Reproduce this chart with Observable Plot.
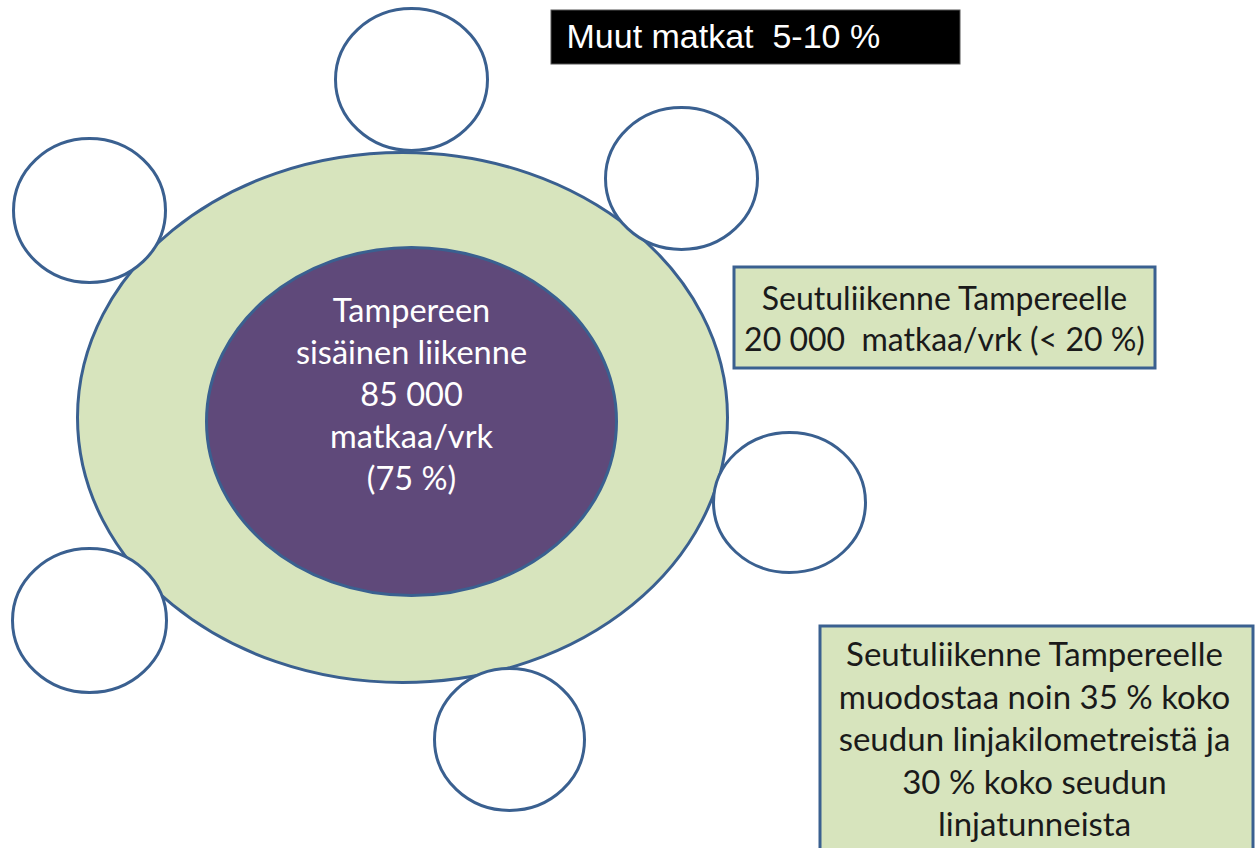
<!DOCTYPE html>
<html><head><meta charset="utf-8">
<script src="https://cdn.jsdelivr.net/npm/d3@7"></script>
<script src="https://cdn.jsdelivr.net/npm/@observablehq/plot@0.6"></script>
<style>html,body{margin:0;padding:0;background:#fff;overflow:hidden}</style>
</head><body><div id="chart"></div>
<script>
const W = 1255, H = 848;

// Nested ellipses: regional ring (outer) and Tampere internal traffic (inner)
const ringNames = ["Seutuliikenne", "Tampereen sisäinen liikenne"];
const ringX = [402, 411];
const ringY = [417, 421];
const ringRx = [325, 205];
const ringRy = [265, 174];

// Surrounding municipalities (empty circles)
const satX = [411, 681, 89, 789, 89, 509];
const satY = [79, 178, 210, 502, 620, 739];
const satRx = [76, 76, 76, 76, 77, 75];
const satRy = [71, 71, 72, 70, 72, 71];

// Text content
const titleText = "Muut matkat\u00a0 5-10 %";
const innerLines = ["Tampereen", "sisäinen liikenne", "85 000", "matkaa/vrk", "(75 %)"];
const box1Lines = ["Seutuliikenne Tampereelle", "20 000\u00a0 matkaa/vrk (< 20 %)"];
const box2Lines = ["Seutuliikenne Tampereelle", "muodostaa noin 35 % koko", "seudun linjakilometreistä ja", "30 % koko seudun", "linjatunneista"];

// Text boxes: title, box 1, box 2
const boxX1 = [551, 734, 820];
const boxX2 = [960, 1155, 1253];
const boxY1 = [10, 267, 626];
const boxY2 = [64, 368, 880];
const labelX = [566, 944, 1034, 411];
const labelY = [37, 317, 737, 392];

const STROKE = "#3a6090";
const K = 0.5522847498;
function ellipseSymbol(aspect) {
  return {
    draw(ctx, size) {
      const rx = Math.sqrt(size / Math.PI), ry = rx * aspect;
      ctx.moveTo(rx, 0);
      ctx.bezierCurveTo(rx, K * ry, K * rx, ry, 0, ry);
      ctx.bezierCurveTo(-K * rx, ry, -rx, K * ry, -rx, 0);
      ctx.bezierCurveTo(-rx, -K * ry, -K * rx, -ry, 0, -ry);
      ctx.bezierCurveTo(K * rx, -ry, rx, -K * ry, rx, 0);
      ctx.closePath();
    }
  };
}

const ringFills = ["#d7e4bd", "#5f497a"];
const ringMarks = ringNames.map((name, i) => Plot.dot([i], {
  x: j => ringX[j], y: j => ringY[j], r: j => ringRx[j],
  symbol: ellipseSymbol(ringRy[i] / ringRx[i]),
  fill: ringFills[i], stroke: STROKE, strokeWidth: 3, title: () => name
}));
const satMarks = satX.map((_, i) => Plot.dot([i], {
  x: j => satX[j], y: j => satY[j], r: j => satRx[j],
  symbol: ellipseSymbol(satRy[i] / satRx[i]),
  fill: "white", stroke: STROKE, strokeWidth: 3
}));

const boxFills = ["black", "#d7e4bd", "#d7e4bd"];
const boxStrokes = ["#555", STROKE, STROKE];
const boxMarks = boxX1.map((_, i) => Plot.rect([i], {
  x1: j => boxX1[j], x2: j => boxX2[j], y1: j => boxY1[j], y2: j => boxY2[j],
  fill: boxFills[i], stroke: boxStrokes[i], strokeWidth: i === 0 ? 1 : 3
}));

const chart = Plot.plot({
  width: W, height: H, margin: 0,
  x: {domain: [0, W], range: [0, W], axis: null},
  y: {domain: [0, H], range: [0, H], axis: null},
  r: {type: "identity"},
  style: {background: "white", overflow: "hidden"},
  marks: [
    ...ringMarks,
    ...satMarks,
    ...boxMarks,
    Plot.text([titleText], {
      x: () => labelX[0], y: () => labelY[0], text: d => d,
      textAnchor: "start", fill: "white", fontSize: 34,
      fontFamily: "Liberation Sans, Arial, sans-serif"
    }),
    Plot.text([box1Lines.join("\n")], {
      x: () => labelX[1], y: () => labelY[1], text: d => d,
      fill: "#1a1a1a", fontSize: 32, lineHeight: 1.28,
      fontFamily: "Lato, sans-serif"
    }),
    Plot.text([box2Lines.join("\n")], {
      x: () => labelX[2], y: () => labelY[2], text: d => d,
      fill: "#1a1a1a", fontSize: 33, lineHeight: 1.29,
      fontFamily: "Lato, sans-serif"
    }),
    Plot.text([innerLines.join("\n")], {
      x: () => labelX[3], y: () => labelY[3], text: d => d,
      fill: "white", fontSize: 32.5, lineHeight: 1.29,
      fontFamily: "Lato, sans-serif"
    })
  ]
});
document.getElementById("chart").appendChild(chart);
</script>
</body></html>
